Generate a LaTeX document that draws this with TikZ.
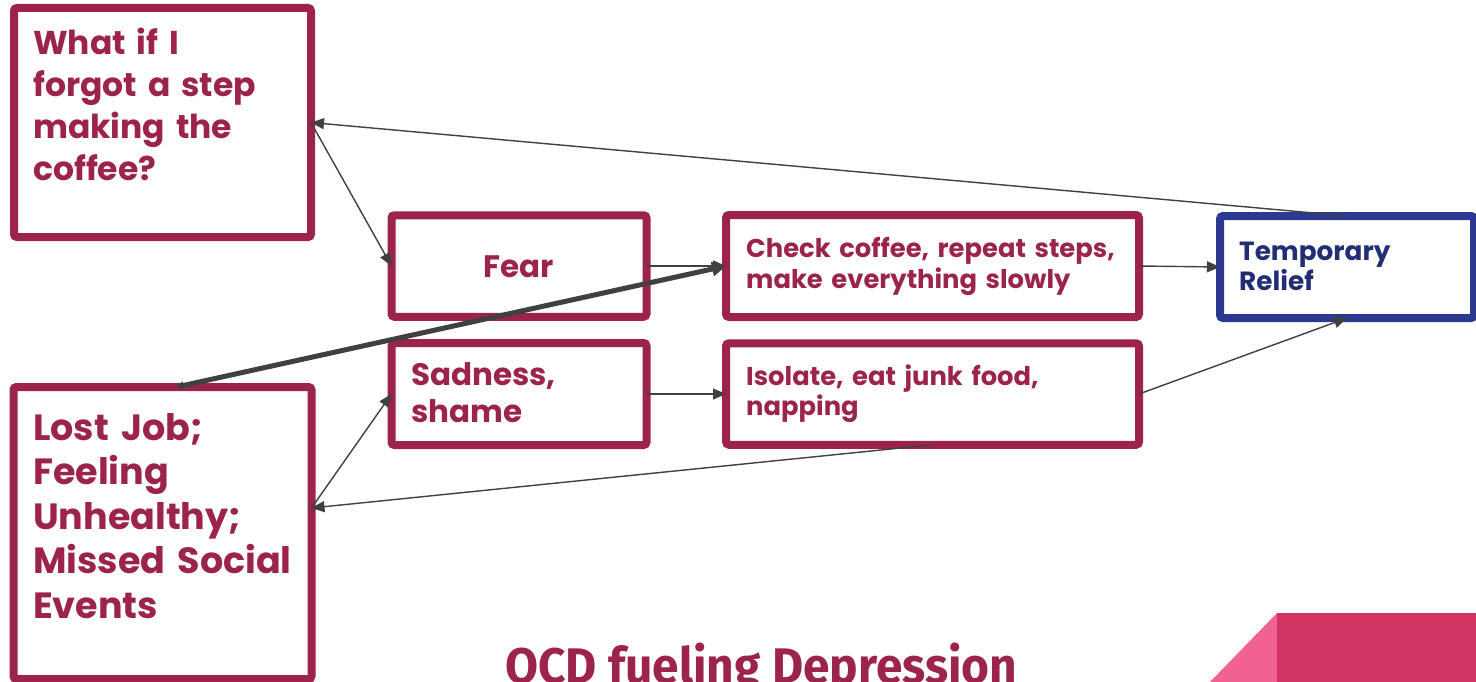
\documentclass[tikz,border=0pt]{standalone}
\usepackage{fontspec}
\usepackage{graphicx}
\setmainfont{Poppins}
\newfontfamily\titlefont{Fira Sans}
\usetikzlibrary{arrows.meta}

\definecolor{maroon}{HTML}{9C234C}
\definecolor{navyline}{HTML}{2B3990}
\definecolor{navytext}{HTML}{232D74}
\definecolor{linkgray}{HTML}{404040}
\definecolor{pinkdark}{HTML}{D13362}
\definecolor{pinklight}{HTML}{F06291}

\tikzset{
  box/.style={draw=maroon, line width=8pt, rounded corners=3pt, fill=white,
    inner sep=0pt, outer sep=0pt},
  reliefbox/.style={box, draw=navyline},
  label/.style={anchor=base west, inner sep=0pt, align=left, text=maroon,
    font=\bfseries},
  link/.style={draw=linkgray, line width=1.4pt,
    -{Triangle[length=13pt,width=11pt]}},
  biglink/.style={draw=linkgray, line width=5pt,
    {Triangle[length=7pt,width=8pt]}-{Triangle[length=14pt,width=14pt]}},
}

\begin{document}
\begin{tikzpicture}[x=1pt,y=-1pt]
  \useasboundingbox (0,0) rectangle (1476,682);
  \fill[white] (0,0) rectangle (1476,682);

  % corner decoration
  \fill[pinklight] (1210,682) -- (1277,613) -- (1277,682) -- cycle;
  \fill[pinkdark] (1277,613) rectangle (1476,682);

  % boxes
  \node[box, minimum width=297pt, minimum height=229pt] (worry) at (162.5,122.5) {};
  \node[box, minimum width=255pt, minimum height=101.5pt] (fear) at (519,266) {};
  \node[box, minimum width=255pt, minimum height=102pt] (sad) at (519,394) {};
  \node[box, minimum width=413pt, minimum height=102pt] (check) at (932.5,266) {};
  \node[box, minimum width=413pt, minimum height=101.5pt] (isolate) at (932.5,394) {};
  \node[reliefbox, minimum width=254pt, minimum height=102pt] (relief) at (1347,267) {};
  \node[box, minimum width=298pt, minimum height=292pt] (lost) at (162.5,533) {};

  % texts
  \node[label, text width=270pt, font=\bfseries\fontsize{33}{41.7}\selectfont]
    (worrytext) at (33,55) {What if I\\forgot a step\\making the\\coffee?};
  \node[label, anchor=base, font=\bfseries\fontsize{31}{37}\selectfont]
    (feartext) at (519,277) {Fear};
  \node[label, text width=220pt, font=\bfseries\fontsize{31}{37}\selectfont]
    (sadtext) at (411,385) {Sadness,\\shame};
  \node[label, text width=390pt, font=\bfseries\fontsize{25.8}{31}\selectfont]
    (checktext) at (746,257) {Check coffee, repeat steps,\\make everything slowly};
  \node[label, text width=390pt, font=\bfseries\fontsize{25.8}{30}\selectfont]
    (isolatetext) at (746,385) {Isolate, eat junk food,\\napping};
  \node[label, text=navytext, text width=220pt, font=\bfseries\fontsize{26.3}{30}\selectfont]
    (relieftext) at (1239,260) {Temporary\\Relief};
  \node[label, text width=280pt, font=\bfseries\fontsize{36.5}{44.5}\selectfont]
    (losttext) at (33,440) {Lost Job;\\Feeling\\Unhealthy;\\Missed Social\\Events};

  % connectors
  \draw[link] (relief.north) -- (worry.east);
  \draw[link] (worry.east) -- (fear.west);
  \draw[link] (fear.east) -- (check.west);
  \draw[biglink] ([xshift=14pt]lost.north) -- (check.west);
  \draw[link] (check.east) -- (relief.west);
  \draw[link] (sad.east) -- (isolate.west);
  \draw[link] (isolate.east) -- (relief.south);
  \draw[link] (isolate.south) -- ([yshift=25pt]lost.east);
  \draw[link] ([yshift=25pt]lost.east) -- (sad.west);

  % title
  \node[anchor=base west, inner sep=0pt, text=maroon,
    font=\titlefont\bfseries\fontsize{50}{60}\selectfont]
    (title) at (505,683) {\scalebox{0.957}[1]{OCD fueling Depression}};
\end{tikzpicture}
\end{document}
